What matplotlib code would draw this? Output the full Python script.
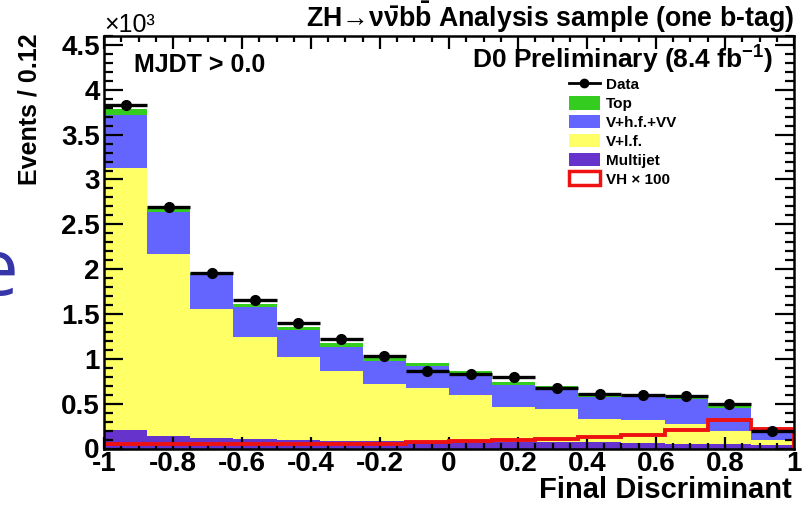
import numpy as np
import matplotlib
matplotlib.use("Agg")
import matplotlib.pyplot as plt
from matplotlib.patches import Patch
from matplotlib.lines import Line2D
from matplotlib.ticker import MultipleLocator

plt.rcParams["font.family"] = ["Liberation Sans", "DejaVu Sans"]
plt.rcParams["mathtext.fontset"] = "custom"
plt.rcParams["mathtext.rm"] = "Liberation Sans:bold"
plt.rcParams["mathtext.bf"] = "Liberation Sans:bold"
plt.rcParams["mathtext.it"] = "Liberation Sans:bold"
plt.rcParams["mathtext.default"] = "rm"

# Final discriminant binning: 16 bins on [-1, 1]
bin_edges = np.linspace(-1.0, 1.0, 17)

# Expected backgrounds per bin (x10^3 events)
multijet = [0.206, 0.143, 0.114, 0.106, 0.090, 0.085, 0.080, 0.078,
            0.076, 0.075, 0.075, 0.070, 0.058, 0.050, 0.048, 0.040]
v_lf = [2.921, 2.028, 1.443, 1.142, 0.928, 0.777, 0.636, 0.594,
        0.521, 0.392, 0.360, 0.259, 0.260, 0.223, 0.142, 0.055]
v_hf_vv = [0.593, 0.469, 0.383, 0.335, 0.305, 0.274, 0.257, 0.249,
           0.242, 0.242, 0.237, 0.242, 0.257, 0.276, 0.259, 0.081]
top = [0.066, 0.033, 0.012, 0.030, 0.030, 0.038, 0.034, 0.037,
       0.029, 0.037, 0.026, 0.045, 0.025, 0.037, 0.055, 0.014]

# Signal (scaled by 100) and observed data (x10^3 events)
vh_x100 = [0.050, 0.050, 0.050, 0.050, 0.050, 0.050, 0.055, 0.075,
           0.085, 0.100, 0.110, 0.125, 0.150, 0.205, 0.320, 0.215]
data = [3.834, 2.692, 1.955, 1.657, 1.397, 1.219, 1.032, 0.868,
        0.831, 0.795, 0.680, 0.612, 0.600, 0.582, 0.500, 0.199]

c_top = "#33cc1f"
c_hf = "#6464ff"
c_lf = "#ffff66"
c_mj = "#6633cc"
c_vh = "#ee1111"

fig = plt.figure(figsize=(8.11, 5.05), dpi=100)
ax = fig.add_axes([104 / 811, 1 - 448.5 / 505, 690 / 811, 412.5 / 505])

widths = np.diff(bin_edges)
centers = 0.5 * (bin_edges[:-1] + bin_edges[1:])

# stacked backgrounds drawn as filled step histograms
base = np.zeros(len(centers))
for vals, col in [(multijet, c_mj), (v_lf, c_lf), (v_hf_vv, c_hf), (top, c_top)]:
    upper = base + np.asarray(vals)
    ax.stairs(upper, bin_edges, baseline=base, fill=True, color=col,
              linewidth=0, zorder=1)
    base = upper

ax.stairs(vh_x100, bin_edges, color=c_vh, linewidth=2.8, zorder=2)
ax.errorbar(centers, data, xerr=widths / 2, fmt="o", color="black",
            markersize=7, elinewidth=2.4, capsize=0, zorder=3)

ax.set_xlim(-1, 1)
ax.set_ylim(0, 4.6)
ax.xaxis.set_major_locator(MultipleLocator(0.2))
ax.xaxis.set_minor_locator(MultipleLocator(0.05))
ax.yaxis.set_major_locator(MultipleLocator(0.5))
ax.yaxis.set_minor_locator(MultipleLocator(0.1))
ax.xaxis.set_major_formatter(plt.FuncFormatter(lambda v, p: f"{round(v, 3) + 0:g}"))
ax.yaxis.set_major_formatter(plt.FuncFormatter(lambda v, p: f"{round(v, 3) + 0:g}"))

ax.tick_params(axis="both", which="both", direction="in", top=True, right=True,
               width=1.6, color="black")
ax.tick_params(axis="x", which="major", length=9, pad=2, labelsize=20)
ax.tick_params(axis="x", which="minor", length=4.5)
ax.tick_params(axis="y", which="major", length=13.5, pad=3, labelsize=20)
ax.tick_params(axis="y", which="minor", length=6.5)
for lab in ax.get_xticklabels() + ax.get_yticklabels():
    lab.set_fontweight("bold")
for s in ax.spines.values():
    s.set_linewidth(1.8)

fig.text(792 / 811, 1 - 498 / 505, "Final Discriminant", ha="right", va="baseline",
         fontsize=21, fontweight="bold")
fig.text(42 / 811, 1 - 33 / 505, "Events / 0.12", rotation=90, ha="right", va="top",
         fontsize=18, fontweight="bold")

fig.text(104 / 811, 1 - 32 / 505, "×10³", ha="left", va="baseline", fontsize=18)
fig.text(794 / 811, 1 - 27 / 505,
         r"ZH→$\nu\bar{\nu}b\bar{b}$ Analysis sample (one b-tag)",
         ha="right", va="baseline", fontsize=19.3, fontweight="bold")
fig.text(134 / 811, 1 - 72 / 505, "MJDT > 0.0", ha="left", va="baseline",
         fontsize=18, fontweight="bold")
fig.text(773 / 811, 1 - 69 / 505, r"D0 Preliminary (8.4 fb$^{-1}$)",
         ha="right", va="baseline", fontsize=19, fontweight="bold")

fig.text(-0.031, 1 - 295 / 505, "e", color="#3636a8", fontsize=56,
         family="Open Sans", ha="left", va="baseline")

handles = [
    Line2D([], [], color="black", marker="o", markersize=6, linewidth=2),
    Patch(facecolor=c_top, edgecolor="none"),
    Patch(facecolor=c_hf, edgecolor="none"),
    Patch(facecolor=c_lf, edgecolor="none"),
    Patch(facecolor=c_mj, edgecolor="none"),
    Patch(facecolor="white", edgecolor=c_vh, linewidth=2.5),
]
labels = ["Data", "Top", "V+h.f.+VV", "V+l.f.", "Multijet", "VH × 100"]
leg = fig.legend(handles, labels, loc="upper left",
                 bbox_to_anchor=(569 / 811, 1 - 77 / 505), frameon=False,
                 prop={"size": 11, "weight": "bold"}, handlelength=2.0,
                 handleheight=1.0, labelspacing=0.25, handletextpad=0.4,
                 borderpad=0, borderaxespad=0)

fig.savefig("out.png", dpi=100)
